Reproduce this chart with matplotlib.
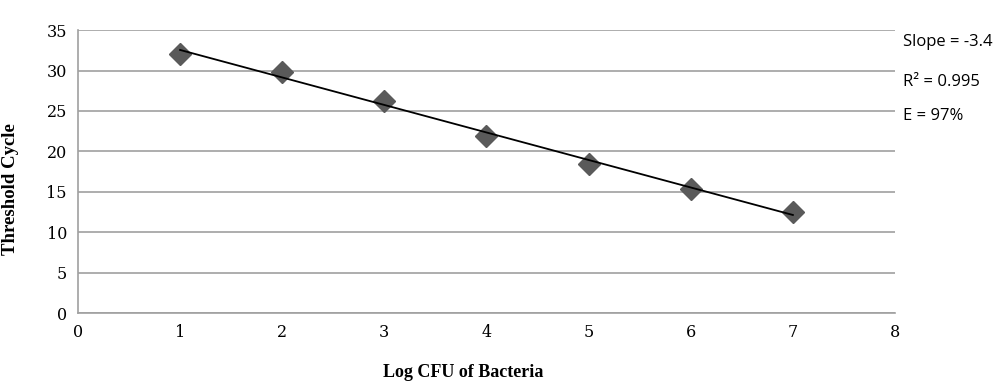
import numpy as np
import matplotlib
matplotlib.use("Agg")
import matplotlib.pyplot as plt

log_cfu = [1, 2, 3, 4, 5, 6, 7]
threshold_cycle = [32.1, 29.8, 26.2, 21.9, 18.5, 15.4, 12.5]
annotations = ["Slope = -3.4", "R\u00b2 = 0.995", "E = 97%"]

fig = plt.figure(figsize=(10, 3.92), dpi=100)
ax = fig.add_axes([0.078, 0.2015, 0.817, 0.7215])

grid_c = "#a0a0a0"
ax.set_xlim(0, 8)
ax.set_ylim(0, 35)
ax.set_yticks(range(0, 36, 5))
ax.set_xticks(range(0, 9))
ax.yaxis.grid(True, color=grid_c, lw=1.2)
ax.set_axisbelow(True)
for s in ["top", "right"]:
    ax.spines[s].set_visible(False)
for s in ["left", "bottom"]:
    ax.spines[s].set_color(grid_c)
    ax.spines[s].set_linewidth(1.2)
ax.tick_params(length=0, labelsize=11.5, pad=8)
for lab in ax.get_xticklabels() + ax.get_yticklabels():
    lab.set_fontfamily("DejaVu Serif")

x = np.array(log_cfu, dtype=float)
y = np.array(threshold_cycle)
ax.plot(x, y, linestyle="none", marker="D", markersize=11, color="#5a5a5a", zorder=3)
coef = np.polyfit(x, y, 1)
ax.plot(x, np.polyval(coef, x), color="black", lw=1.3, zorder=4)

ax.set_xlabel("Log CFU of Bacteria", fontfamily="Liberation Serif", fontweight="bold",
              fontsize=13)
ax.xaxis.set_label_coords(0.471, -0.18)
ax.set_ylabel("Threshold Cycle", fontfamily="Liberation Serif", fontweight="bold",
              fontsize=13.5)
ax.yaxis.set_label_coords(-0.072, 0.44)

for txt, ypx in zip(annotations, [42, 82, 116]):
    fig.text(0.903, 1 - ypx / 392, txt, fontsize=12, fontfamily="Open Sans",
             va="center", ha="left")

fig.savefig("out.png", dpi=100)
